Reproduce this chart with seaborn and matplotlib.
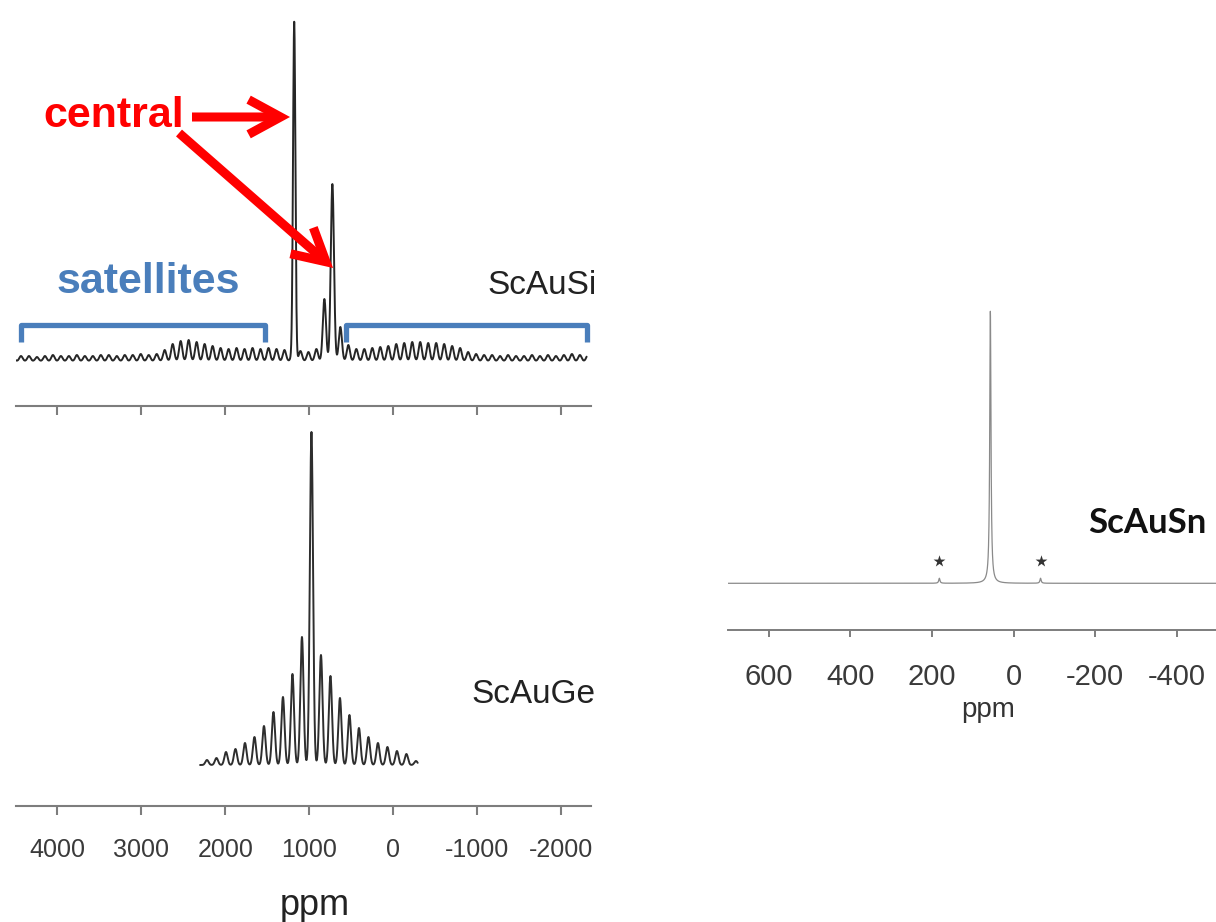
import numpy as np
import matplotlib
matplotlib.use("Agg")
import matplotlib.pyplot as plt
import seaborn as sns

# ---------------- data ----------------
sample_labels = ["ScAuSi", "ScAuGe", "ScAuSn"]

# ScAuSi : two central transitions + spinning-sideband comb (referenced to 726 ppm)
si_site_a_ppm = 1180
si_site_a_height = 336
si_central_ppm = [1180, 726]
si_comb_ref_ppm = 726
si_spin_ppm = 95
si_sideband_order = list(range(40, -33, -1))
si_sideband_height = [4, 5, 5, 4, 5, 6, 5, 5, 6, 5, 5, 6, 6, 5, 6, 6, 7, 6, 7,
                      11, 17, 20, 21, 19, 17, 15, 13, 12, 13, 12, 13, 12, 13, 12, 11, 6, 10, 9, 12,
                      62, 177,
                      34, 16, 12, 12, 13, 14, 15, 17, 18, 19, 19, 18, 18, 17, 15, 13, 9, 7,
                      6, 6, 5, 6, 5, 5, 6, 5, 6, 5, 6, 7, 6, 6]
si_range_ppm = [4492, -2300]
satellite_ranges_ppm = [(4426, 1532), (564, -2309)]

# ScAuGe : central line + sidebands
ge_center_ppm = 975
ge_spin_ppm = 113
ge_sideband_order = list(range(11, -12, -1))
ge_sideband_height = [5, 7, 13, 16, 22, 28, 39, 53, 68, 91, 128, 333,
                      110, 89, 67, 50, 37, 28, 22, 18, 14, 11, 4]
ge_range_ppm = [2300, -290]

# ScAuSn : single narrow line + two small sidebands (*)
sn_peak_ppm = [57, 182, -66]
sn_peak_height = [272, 5, 5]
sn_star_ppm = [182, -66]
sn_range_ppm = [700, -500]

left_ticks = [4000, 3000, 2000, 1000, 0, -1000, -2000]
right_ticks = [600, 400, 200, 0, -200, -400]

# ---------------- style ----------------
sns.set_theme(style="white")
plt.rcParams["font.family"] = ["Liberation Sans", "DejaVu Sans"]
plt.rcParams["axes.unicode_minus"] = False

W, H = 1216, 922
fig = plt.figure(figsize=(W / 100, H / 100), dpi=100)
fig.patch.set_facecolor("white")


def rect(x0, y0, x1, y1):
    return [x0 / W, 1 - y1 / H, (x1 - x0) / W, (y1 - y0) / H]


def fxy(x, y):
    return (x / W, 1 - y / H)


def gauss(grid, pos, hts, sigma):
    pos = np.asarray(pos, float)[:, None]
    hts = np.asarray(hts, float)[:, None]
    return (hts * np.exp(-0.5 * ((grid[None, :] - pos) / sigma) ** 2)).sum(0)


def lorentz(grid, pos, hts, gamma):
    pos = np.asarray(pos, float)[:, None]
    hts = np.asarray(hts, float)[:, None]
    return (hts / (1 + ((grid[None, :] - pos) / gamma) ** 2)).sum(0)


def style_axis(ax, xlim, ylim, ticks, labels_on, fs, pad, tlen, lw):
    ax.set_xlim(*xlim)
    ax.set_ylim(*ylim)
    ax.set_xticks(ticks)
    ax.set_xticklabels([str(t) for t in ticks])
    ax.set_yticks([])
    for s in ["left", "right", "top"]:
        ax.spines[s].set_visible(False)
    ax.spines["bottom"].set_color("#7d7d7d")
    ax.spines["bottom"].set_linewidth(lw)
    ax.tick_params(axis="x", direction="out", length=tlen, width=lw,
                   color="#7d7d7d", labelcolor="#3a3a3a", labelsize=fs,
                   pad=pad, labelbottom=labels_on, bottom=True)
    ax.set_facecolor("none")
    ax.set_xlabel("")
    ax.set_ylabel("")


# ---------------- ScAuSi ----------------
ax_si = fig.add_axes(rect(15.6, 10, 591, 406))
g_si = np.arange(si_range_ppm[0], si_range_ppm[1], -1.5)
sb_pos = [si_comb_ref_ppm + k * si_spin_ppm for k in si_sideband_order]
y_si = gauss(g_si, sb_pos, si_sideband_height, 19) + \
    gauss(g_si, [si_site_a_ppm], [si_site_a_height], 14)
sns.lineplot(x=g_si, y=y_si, ax=ax_si, color="#262626", linewidth=1.4,
             sort=False, estimator=None)
style_axis(ax_si, (4495, -2351), (-45, 351), left_ticks, False, 18, 16.5, 6.5, 1.5)

bracket_col = "#4a7ebb"
for a, b in satellite_ranges_ppm:
    ax_si.plot([a, a, b, b], [19, 36, 36, 19], color=bracket_col, lw=3.8,
               solid_joinstyle="round", solid_capstyle="butt", clip_on=False)

fig.text(*fxy(57, 293), "satellites", color=bracket_col, fontsize=31,
         fontweight="bold", ha="left", va="baseline")
fig.text(*fxy(597, 294), sample_labels[0], color="#222222", fontsize=24,
         ha="right", va="baseline")
fig.text(*fxy(43, 127), "central", color="#ff0000", fontsize=31,
         fontweight="bold", ha="left", va="baseline")

arrow_kw = dict(arrowstyle="->,head_length=2.3,head_width=1.25", color="#ff0000",
                lw=6.5, shrinkA=0, shrinkB=0, mutation_scale=10,
                joinstyle="miter", capstyle="butt")
ax_si.annotate("", xy=(si_central_ppm[0] + 50, 244), xycoords="data",
               xytext=fxy(192, 117), textcoords="figure fraction",
               arrowprops=arrow_kw, annotation_clip=False)
ax_si.annotate("", xy=(si_central_ppm[1] - 8, 93), xycoords="data",
               xytext=fxy(179, 133), textcoords="figure fraction",
               arrowprops=arrow_kw, annotation_clip=False)

# ---------------- ScAuGe ----------------
ax_ge = fig.add_axes(rect(15.6, 420, 591, 806))
g_ge = np.arange(ge_range_ppm[0], ge_range_ppm[1], -1.0)
ge_pos = [ge_center_ppm + k * ge_spin_ppm for k in ge_sideband_order]
y_ge = gauss(g_ge, ge_pos, ge_sideband_height, 19)
sns.lineplot(x=g_ge, y=y_ge, ax=ax_ge, color="#2e2e2e", linewidth=1.4,
             sort=False, estimator=None)
style_axis(ax_ge, (4495, -2351), (-41, 345), left_ticks, True, 18, 16.5, 6.5, 1.5)
fig.text(*fxy(595, 703), sample_labels[1], color="#222222", fontsize=24,
         ha="right", va="baseline")
fig.text(*fxy(315, 905), "ppm", color="#222222", fontsize=26,
         ha="center", va="center")

# ---------------- ScAuSn ----------------
ax_sn = fig.add_axes(rect(728, 290, 1216, 630))
g_sn = np.arange(sn_range_ppm[0], sn_range_ppm[1], -0.25)
y_sn = lorentz(g_sn, sn_peak_ppm, sn_peak_height, 1.8)
sns.lineplot(x=g_sn, y=y_sn, ax=ax_sn, color="#8a8a8a", linewidth=0.9,
             sort=False, estimator=None)
sns.scatterplot(x=sn_star_ppm, y=[22] * len(sn_star_ppm), ax=ax_sn, marker="*",
                s=80, color="#333333", linewidth=0)
style_axis(ax_sn, (700, -496), (-46.7, 293.3), right_ticks, True, 21, 18.5, 5, 1.4)
fig.text(*fxy(1088, 533), sample_labels[2], color="#111111", fontsize=25,
         fontweight="bold", family=["Lato", "DejaVu Sans"], ha="left", va="baseline")
fig.text(*fxy(988, 710), "ppm", color="#333333", fontsize=20,
         ha="center", va="center")

fig.savefig("out.png", dpi=100, facecolor="white")
